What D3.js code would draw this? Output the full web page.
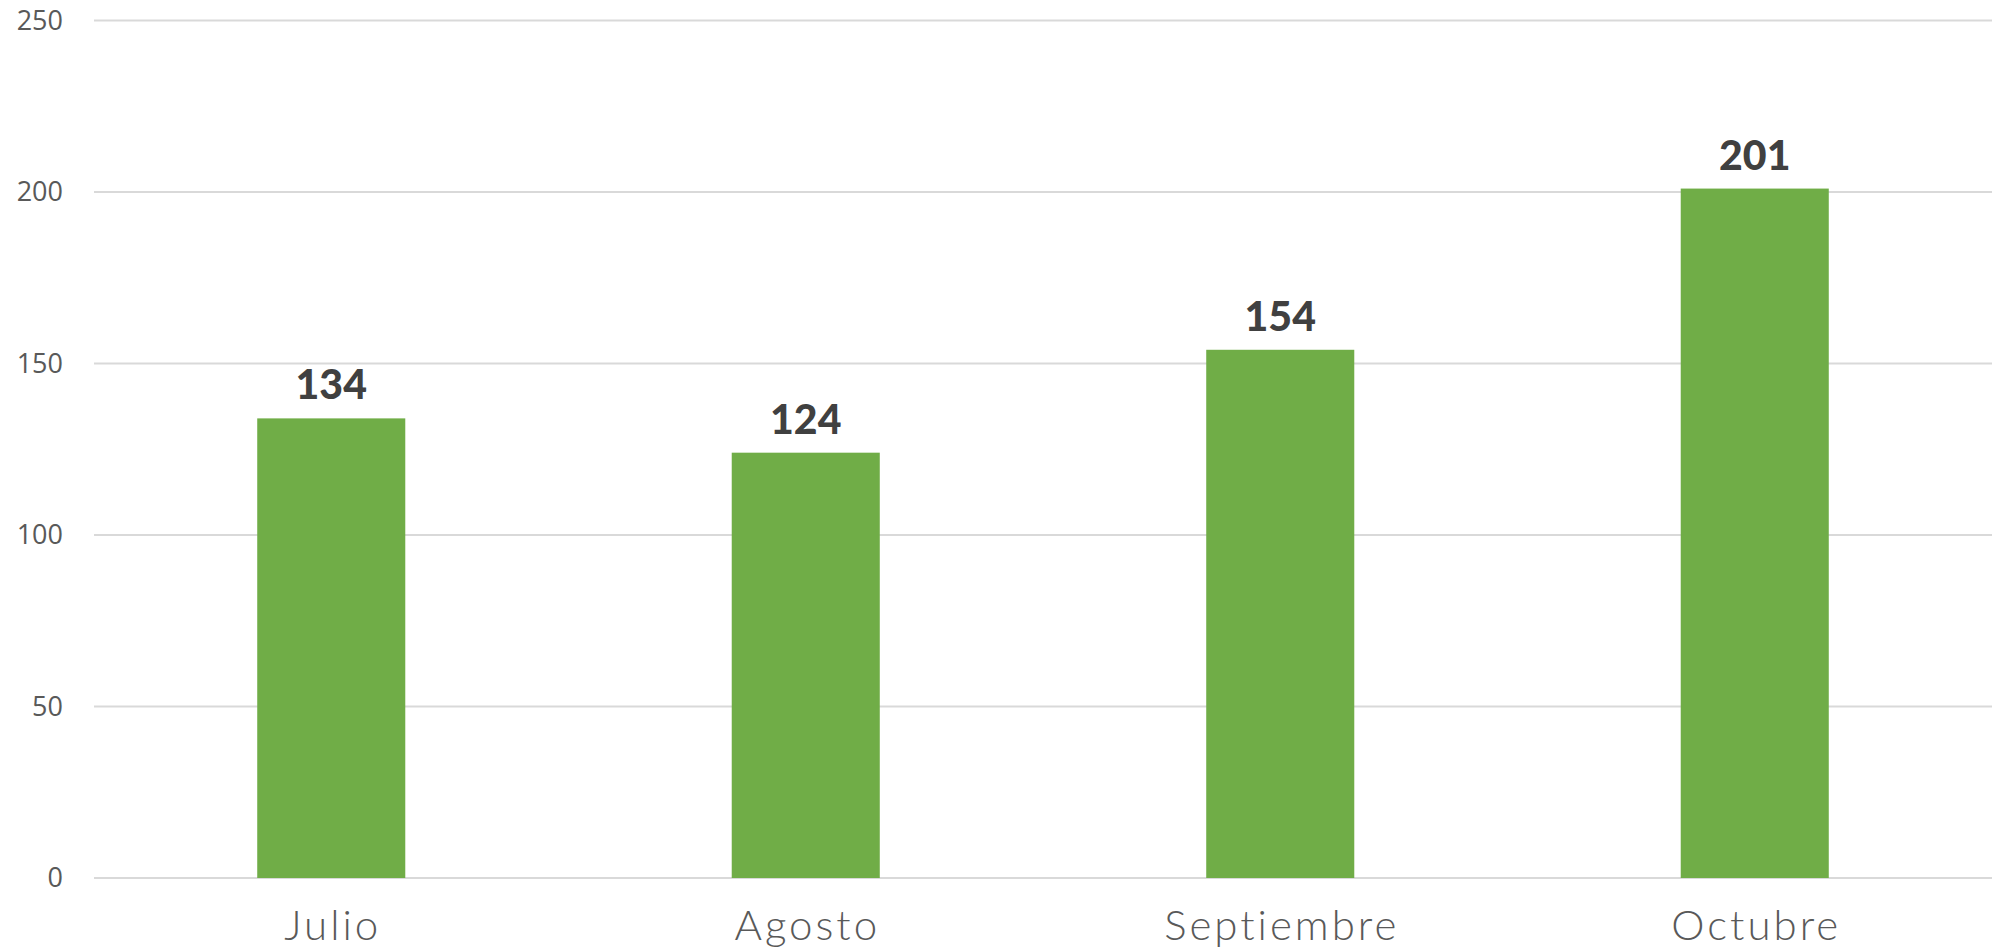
<!DOCTYPE html>
<html>
<head>
<meta charset="utf-8">
<script src="https://cdn.jsdelivr.net/npm/d3@7"></script>
<style>
  body { margin: 0; background: #fff; }
</style>
</head>
<body>
<script>
var months = ["Julio", "Agosto", "Septiembre", "Octubre"];
var values = [134, 124, 154, 201];
var yTicks = [0, 50, 100, 150, 200, 250];

var width = 2005, height = 950;
var margin = {top: 20.5, right: 13, bottom: 72, left: 94};

var svg = d3.select("body").append("svg")
  .attr("width", width).attr("height", height);

var x = d3.scaleBand().domain(months)
  .range([margin.left, width - margin.right]).padding(0);
var y = d3.scaleLinear().domain([0, 250])
  .range([height - margin.bottom, margin.top]);

var barW = x.bandwidth() * 0.312;

// gridlines
svg.append("g").selectAll("line")
  .data(yTicks).enter().append("line")
  .attr("x1", margin.left).attr("x2", width - margin.right)
  .attr("y1", function (d) { return y(d); })
  .attr("y2", function (d) { return y(d); })
  .attr("stroke", "#d9d9d9").attr("stroke-width", 2);

// y labels
svg.append("g").selectAll("text")
  .data(yTicks).enter().append("text")
  .attr("x", 63).attr("y", function (d) { return y(d); })
  .attr("dy", "0.35em").attr("text-anchor", "end")
  .attr("font-family", "'Open Sans', sans-serif").attr("font-size", 27)
  .attr("fill", "#595959")
  .text(function (d) { return d; });

// bars
svg.append("g").selectAll("rect")
  .data(values).enter().append("rect")
  .attr("x", function (d, i) { return x(months[i]) + x.bandwidth() / 2 - barW / 2; })
  .attr("width", barW)
  .attr("y", function (d) { return y(d); })
  .attr("height", function (d) { return y(0) - y(d); })
  .attr("fill", "#70ad47");

// value labels
svg.append("g").selectAll("text")
  .data(values).enter().append("text")
  .attr("x", function (d, i) { return x(months[i]) + x.bandwidth() / 2; })
  .attr("y", function (d) { return y(d) - 19; })
  .attr("text-anchor", "middle")
  .attr("font-family", "Lato, sans-serif").attr("font-weight", 900)
  .attr("font-size", 41).attr("fill", "#404040")
  .text(function (d) { return d; });

// x labels
svg.append("g").selectAll("text")
  .data(months).enter().append("text")
  .attr("x", function (d) { return x(d) + x.bandwidth() / 2 + 1.5; })
  .attr("y", 940)
  .attr("text-anchor", "middle")
  .attr("font-family", "Lato, sans-serif").attr("font-weight", 300)
  .attr("font-size", 42).attr("letter-spacing", 3).attr("fill", "#595959")
  .text(function (d) { return d; });
</script>
</body>
</html>
